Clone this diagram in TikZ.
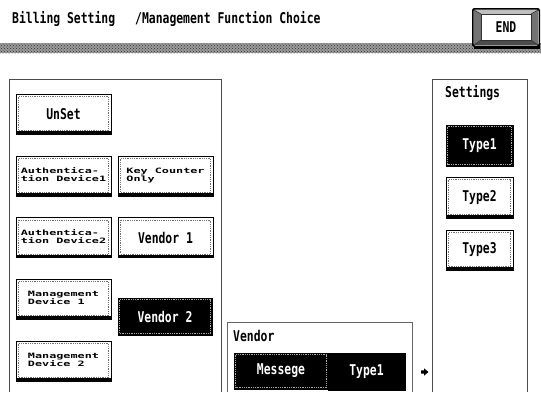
\documentclass[tikz,border=0pt]{standalone}
\usepackage{fontspec}
\newfontfamily\uifont{DejaVu Sans Mono}
\usetikzlibrary{calc,patterns}
% tall (condensed look) and flat (wide look) versions of the panel font
\newcommand\tallbox[1]{\scalebox{1}[1.3]{#1}}
\newcommand\flatbox[1]{{\fontsize{11.8pt}{12pt}\selectfont\scalebox{1}[0.62]{\begin{tabular}{@{}l@{}}#1\end{tabular}}}}
\begin{document}
\begin{tikzpicture}[x=1pt,y=-1pt,
  font=\uifont\bfseries\fontsize{11.4pt}{13pt}\selectfont,
  panel/.style={draw=black!70, line width=1pt},
  uibtn/.style={draw=black, line width=0.9pt, fill=white, inner sep=0pt,
    minimum width=95pt, minimum height=40pt,
    path picture={
      \draw[black!55, densely dotted, line width=0.8pt]
        ([xshift=2.5pt,yshift=-2.5pt]path picture bounding box.north west) rectangle
        ([xshift=-2.5pt,yshift=3.5pt]path picture bounding box.south east);
      \fill[black] ([yshift=3pt]path picture bounding box.south west) rectangle
        (path picture bounding box.south east);
    }},
  darkbtn/.style={draw=black, line width=0.9pt, fill=black, text=white, inner sep=0pt,
    minimum width=95pt, minimum height=40pt,
    path picture={
      \draw[white!65!black, densely dotted, line width=0.8pt]
        ([xshift=1.5pt,yshift=-1.5pt]path picture bounding box.north west) rectangle
        ([xshift=-1.5pt,yshift=1.5pt]path picture bounding box.south east);
    }},
  plaindark/.style={draw=black, fill=black, text=white, inner sep=0pt},
  label/.style={anchor=west, inner sep=0pt},
  bevel/.style={fill=black!#1}
]
\useasboundingbox[fill=white] (0,0) rectangle (541,392);

% header
\node[label] (title) at (12,19) {\tallbox{Billing Setting}};
\node[label] (subtitle) at (135,19) {\tallbox{/Management Function Choice}};
\fill[black!40] (0,43) rectangle (541,53);
\fill[pattern=crosshatch dots, pattern color=black!80] (0,43) rectangle (541,53);

% END key: black drop shadow, bevelled frame, raised face
\fill[black] (474,44) rectangle (540,49);
\node[draw=black, line width=1pt, rounded corners=2pt, fill=white, inner sep=0pt,
  minimum width=66pt, minimum height=37pt] (endkey) at (506,27.5) {};
\path[bevel=25] (474,10) -- (481,14) -- (531,14) -- (538,10) -- cycle;
\path[bevel=55] (474,10) -- (481,14) -- (481,40) -- (474,45) -- cycle;
\path[bevel=55] (538,10) -- (531,14) -- (531,40) -- (538,45) -- cycle;
\path[bevel=70] (474,45) -- (481,40) -- (531,40) -- (538,45) -- cycle;
\draw[black!80, line width=0.6pt] (481,14) rectangle (531,40);
\draw[black!80, line width=0.6pt] (474,10) -- (481,14) (538,10) -- (531,14)
  (474,45) -- (481,40) (538,45) -- (531,40);
\draw[black, line width=1pt, rounded corners=2pt] (endkey.north west) rectangle (endkey.south east);
\node (endtxt) at (506,27.5) {\tallbox{END}};

% panels
\draw[panel] (9,392) -- (9,79) -- (221,79) -- (221,392);
\draw[panel] (432,392) -- (432,79) -- (527,79) -- (527,392);
\draw[panel, draw=black!60] (227,392) -- (227,322) -- (412,322) -- (412,392);

% left panel keys
\node[uibtn] (unset) at (63.5,114) {\tallbox{UnSet}};
\node[uibtn] (auth1) at (63.5,176) {\flatbox{Authentica-\\tion Device1}};
\node[uibtn] (keyc) at (165.5,176) {\flatbox{Key Counter\\Only\phantom{ounter}}};
\node[uibtn] (auth2) at (63.5,237.5) {\flatbox{Authentica-\\tion Device2}};
\node[uibtn] (vend1) at (165.5,237.5) {\tallbox{Vendor 1}};
\node[uibtn] (mgmt1) at (63.5,299) {\flatbox{Management\\Device 1\phantom{t}}};
\node[darkbtn, minimum width=94pt, minimum height=37pt] (vend2) at (165,316.5) {\tallbox{Vendor 2}};
\node[uibtn] (mgmt2) at (63.5,361) {\flatbox{Management\\Device 2\phantom{t}}};

% vendor box
\node[label] (vendlbl) at (233,336) {\tallbox{Vendor}};
\node[darkbtn, minimum width=94pt, minimum height=36pt] (msg) at (281,371) {\tallbox{Messege}};
\node[plaindark, minimum width=77pt, minimum height=37pt] (vtype) at (366.5,371.5) {\tallbox{Type1}};
\fill[black] (421,370.3) -- (424,370.3) -- (424,368.3) -- (428.5,372) -- (424,375.7) -- (424,373.7) -- (421,373.7) -- cycle;

% settings panel
\node[label] (setlbl) at (445,93.5) {\tallbox{Settings}};
\node[darkbtn, minimum width=67pt, minimum height=41pt] (t1) at (479.5,145.5) {\tallbox{Type1}};
\node[uibtn, minimum width=67pt, minimum height=41pt] (t2) at (479.5,197.5) {\tallbox{Type2}};
\node[uibtn, minimum width=67pt, minimum height=40pt] (t3) at (479.5,250) {\tallbox{Type3}};
\end{tikzpicture}
\end{document}
